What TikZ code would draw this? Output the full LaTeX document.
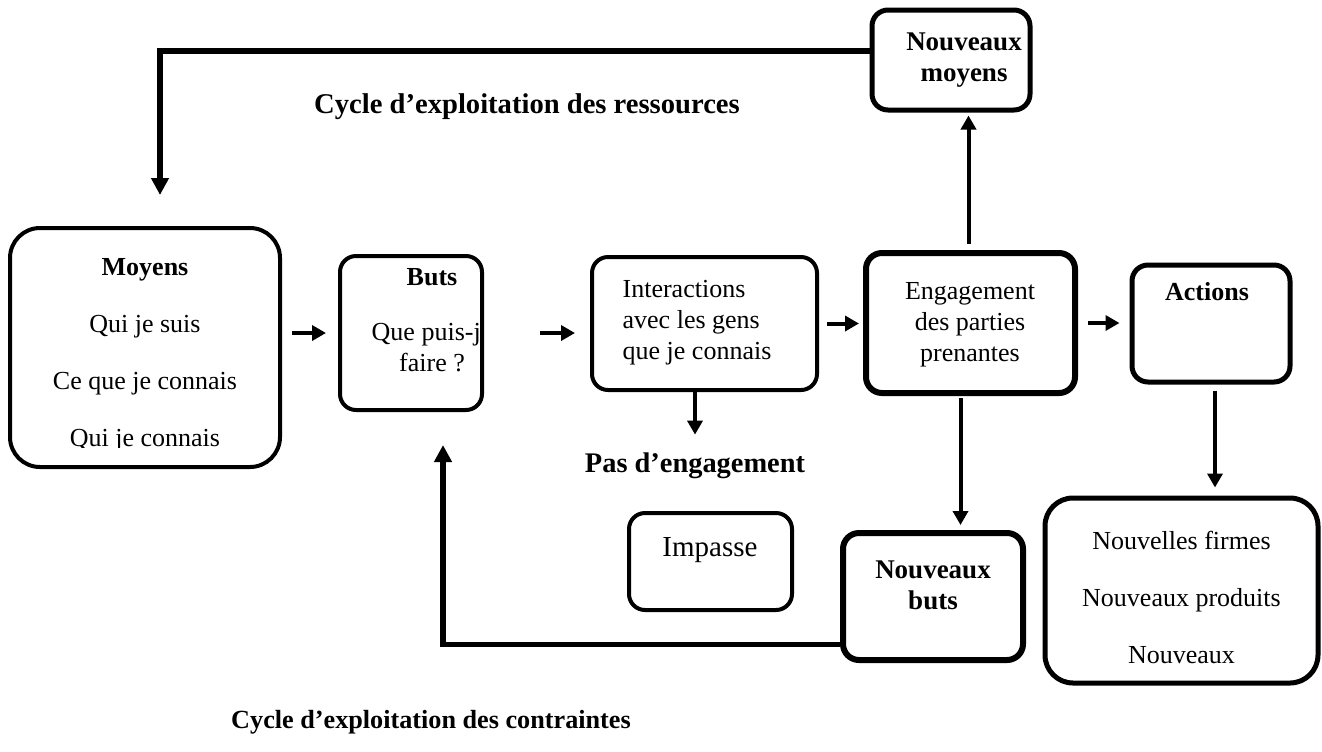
\documentclass[tikz,border=0pt]{standalone}
\usepackage{fontspec}
\setmainfont{Liberation Serif}
\usetikzlibrary{positioning,arrows.meta}

\begin{document}
\begin{tikzpicture}[x=0.5pt,y=-0.5pt,
  box/.style={draw,line width=2pt,rounded corners=8pt,inner sep=0pt},
  bigbox/.style={box,line width=3pt},
  txt/.style={font=\fontsize{13}{15.5}\selectfont,align=center,inner sep=1pt},
  arr/.style={line width=2pt,-{Triangle[length=7pt,width=7.5pt]}},
  loop/.style={line width=2.6pt,-{Triangle[length=8.5pt,width=8.5pt]}}]

  \useasboundingbox (0,0) rectangle (1322,751);

  % Boxes
  \node[box,rounded corners=15pt,minimum width=135pt,minimum height=119.5pt] (moyens) at (145,347.5) {};
  \node[box,minimum width=71pt,minimum height=77pt] (buts) at (411,333) {};
  \node[box,minimum width=112.5pt,minimum height=66.5pt] (inter) at (704.5,323.5) {};
  \node[bigbox,minimum width=104.5pt,minimum height=70pt] (engag) at (970.5,323) {};
  \node[box,line width=2.5pt,minimum width=79pt,minimum height=58.5pt] (actions) at (1211,323.5) {};
  \node[box,line width=2.5pt,minimum width=79pt,minimum height=50pt] (nmoyens) at (951,60) {};
  \node[box,minimum width=81.5pt,minimum height=48.5pt] (impasse) at (710.5,561.5) {};
  \node[bigbox,minimum width=90pt,minimum height=63.5pt] (nbuts) at (933,596.5) {};
  \node[box,line width=2.5pt,rounded corners=14pt,minimum width=136.5pt,minimum height=92.5pt] (result) at (1181.5,590.5) {};

  % Texts (cut by the box edge where they run over)
  \begin{scope}
    \clip (12,232) rectangle (278,447);
    \node[txt] (moyens-t) at (145,355) {\textbf{Moyens}\\[13pt]Qui je suis\\[13pt]Ce que je connais\\[13pt]Qui je connais};
  \end{scope}
  \begin{scope}
    \clip (342,258) rectangle (481,408);
    \node[txt] (buts-t) at (432,320) {\textbf{Buts}\\[12pt]Que puis-je\\faire ?};
  \end{scope}
  \node[txt,align=left] (inter-t) at (697,323) {Interactions\\avec les gens\\que je connais};
  \node[txt] (engag-t) at (970,325) {Engagement\\des parties\\prenantes};
  \node[txt] (actions-t) at (1207,292) {\textbf{Actions}};
  \node[txt,font=\fontsize{13.5}{15.5}\selectfont] (nmoyens-t) at (964,60) {\textbf{Nouveaux}\\\textbf{moyens}};
  \node[txt,font=\fontsize{14.5}{17}\selectfont] (impasse-t) at (710,550) {Impasse};
  \node[txt,font=\fontsize{13.5}{15.5}\selectfont] (nbuts-t) at (933,585) {\textbf{Nouveaux}\\\textbf{buts}};
  \node[txt] (result-t) at (1181.5,597) {Nouvelles firmes\\[13pt]Nouveaux produits\\[13pt]Nouveaux};

  \node[txt,font=\bfseries\fontsize{14.3}{17}\selectfont] (ressources) at (527,107) {Cycle d’exploitation des ressources};
  \node[txt,font=\bfseries\fontsize{14.2}{17}\selectfont] (pasdeng) at (695,466) {Pas d’engagement};
  \node[txt,font=\bfseries\fontsize{13.1}{15.5}\selectfont] (contraintes) at (431,722) {Cycle d’exploitation des contraintes};

  % Arrows
  \coordinate (topleft) at (160,51);
  \draw[loop,shorten >=15.5pt] ([yshift=4.5pt]nmoyens.west) -- (topleft) -- (topleft |- moyens.north);
  \draw[arr,shorten <=5pt,shorten >=6pt] (moyens.east |- buts) -- (buts.west);
  \draw[arr,shorten <=28pt,shorten >=7.5pt] (buts.east) -- (inter.west |- buts);
  \draw[arr,shorten <=4pt,shorten >=2pt] (inter.east) -- (engag.west |- inter);
  \draw[arr,shorten <=5pt,shorten >=5pt] (engag.east) -- (actions.west |- engag);
  \draw[arr,shorten <=3pt,shorten >=1.5pt] ([xshift=-1pt]engag.north) -- ([xshift=-1pt]engag.north |- nmoyens.south);
  \draw[arr,shorten >=8pt] (inter.south -| pasdeng.north) -- (pasdeng.north);
  \draw[arr,shorten <=1pt,shorten >=2.5pt] ([xshift=-5pt]engag.south) -- ([xshift=-5pt]engag.south |- nbuts.north);
  \draw[arr,shorten <=3pt,shorten >=4pt] ([xshift=2pt]actions.south) -- ([xshift=2pt]actions.south |- result.north);
  \draw[loop,shorten >=16.5pt] ([yshift=-24pt]nbuts.west) -| ([xshift=16pt]buts.south);

\end{tikzpicture}
\end{document}
